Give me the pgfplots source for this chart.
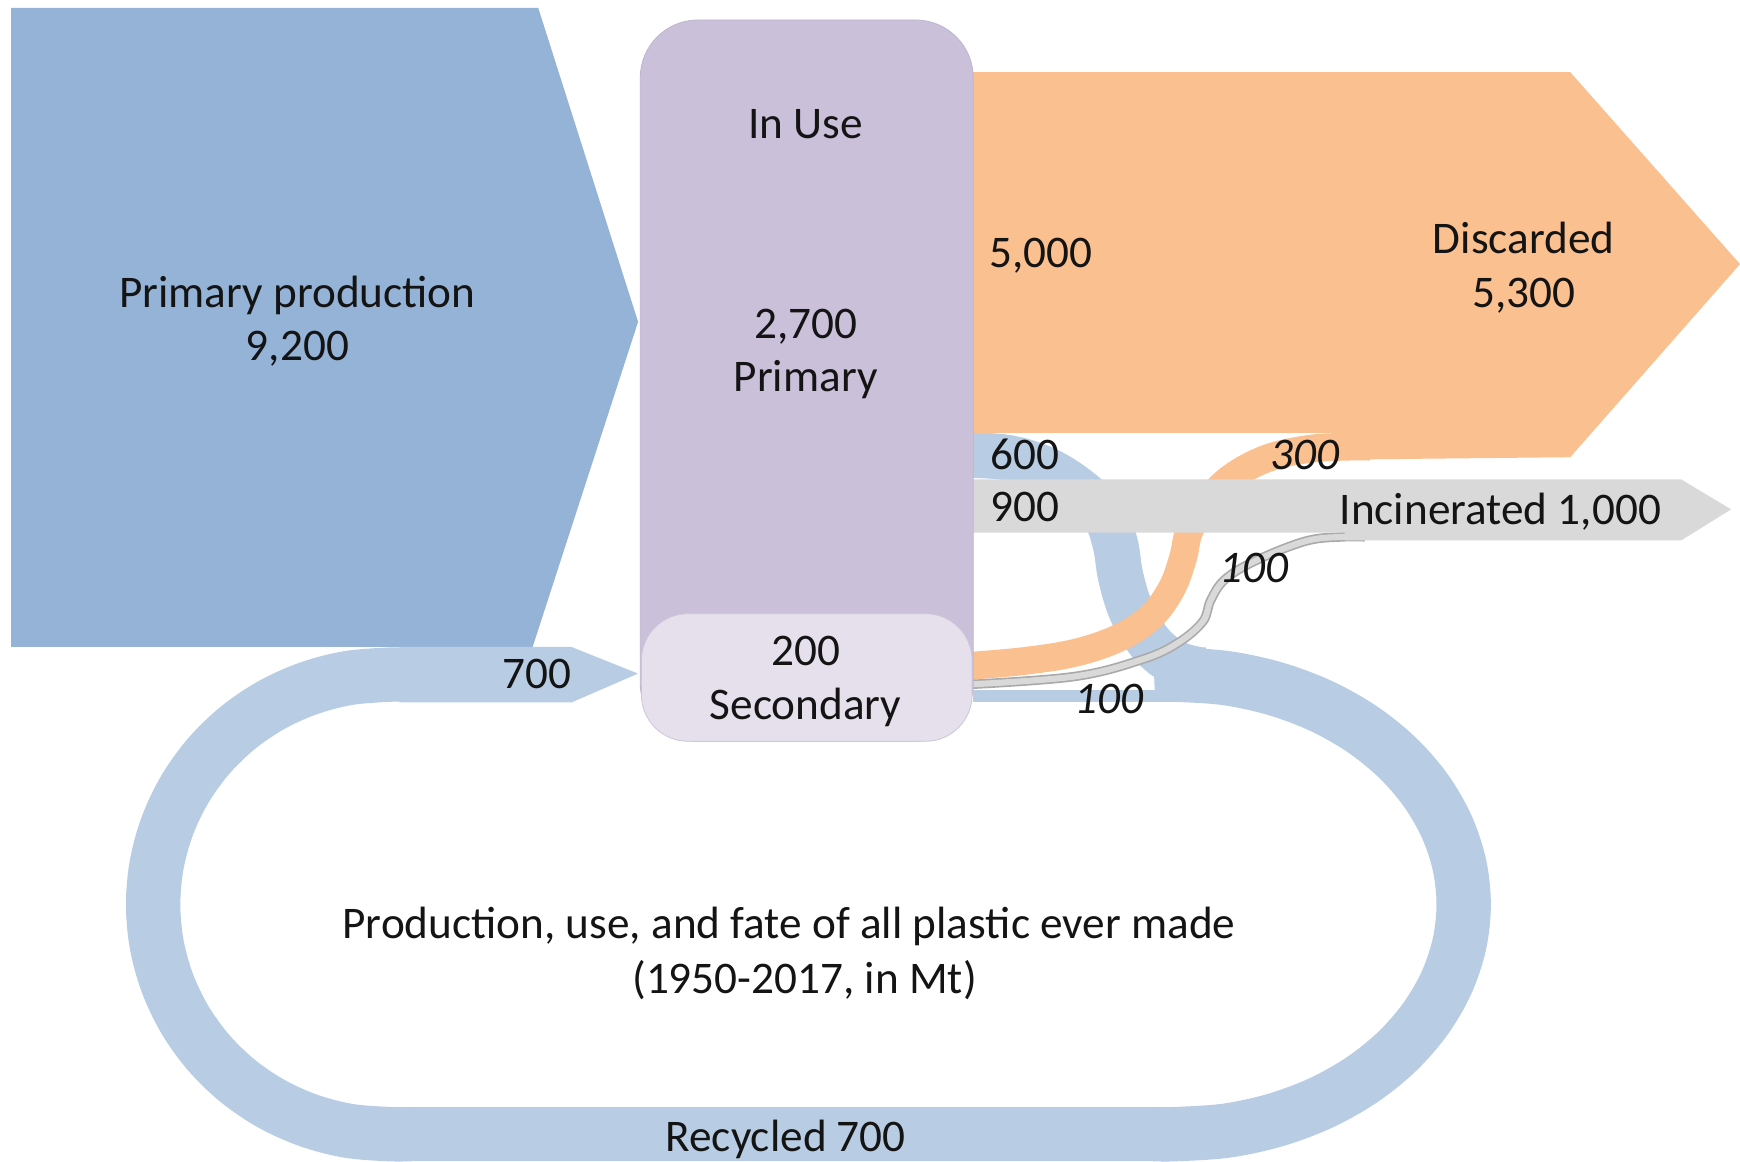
\documentclass[border=0pt]{standalone}
\usepackage{pgfplots}
\pgfplotsset{compat=1.18}
\usepackage{fontspec}
\setmainfont{Carlito}
\definecolor{pblue}{RGB}{149,179,215}
\definecolor{lblue}{RGB}{184,204,228}
\definecolor{orng}{RGB}{250,192,144}
\definecolor{purp}{RGB}{202,192,218}
\definecolor{secp}{RGB}{229,224,236}
\definecolor{gry}{RGB}{217,217,217}
\definecolor{gryd}{RGB}{170,170,170}
\definecolor{txt}{RGB}{20,20,20}
\tikzset{lbl/.style={anchor=base, text=txt, font=\fontsize{11.6}{13.9}\selectfont},
  ilbl/.style={anchor=base, text=txt, font=\fontsize{11.6}{13.9}\selectfont\itshape}}
\begin{document}
\begin{tikzpicture}
\begin{axis}[x=0.1mm, y=0.1mm, y dir=reverse,
  xmin=0, xmax=1568, ymin=0, ymax=1047,
  hide axis, clip=true,
  every axis plot/.append style={mark=none}]
% background
\addplot[fill=white, draw=none] coordinates {(0,0) (1568,0) (1568,1047) (0,1047)} --cycle;
% primary production
\addplot[fill=pblue, draw=none] coordinates {(10,7) (485,7) (575,290) (480,583) (10,583)} --cycle;
% recycling loop (centre line of the band): left bend, bottom, right bend
\addplot[draw=lblue, line width=4.9mm, smooth, tension=0.55] coordinates {
(370,608) (350,608) (313.2,611.1) (277.5,620.5) (244,635.7) (213.7,656.4) (187.6,681.9) (166.4,711.5) (150.8,744.2) (141.2,779.1) (138,815)
(141.2,850.9) (150.8,885.8) (166.4,918.5) (187.6,948.1) (213.7,973.6) (244,994.3) (277.5,1009.5) (313.2,1018.9) (350,1022) (370,1022)};
\addplot[draw=lblue, line width=4.9mm, sharp plot] coordinates {(365,1022) (1045,1022)};
\addplot[draw=lblue, line width=4.9mm, smooth, tension=0.55] coordinates {
(1040,1022) (1060,1022) (1105,1018.9) (1148.6,1009.5) (1189.5,994.3) (1226.5,973.6) (1258.4,948.1) (1284.3,918.5) (1303.4,885.8) (1315.1,850.9) (1319,815)
(1315.1,779.1) (1303.4,744.2) (1284.3,711.5) (1258.4,681.9) (1226.5,656.4) (1189.5,635.7) (1148.6,620.5) (1105,611.1) (1060,608) (1040,608)};
% arrow into secondary (700)
\addplot[fill=lblue, draw=none] coordinates {(360,583) (515,583) (575,607) (515,633) (360,633)} --cycle;
% thin band from secondary (100)
\addplot[fill=lblue, draw=none] coordinates {(877,622) (1070,622) (1070,633) (877,633)} --cycle;
% 600 flow (in use -> recycled)
\addplot[draw=lblue, line width=4.1mm, smooth, tension=0.6] coordinates {
(860,410) (905,412) (940,422) (970,440) (995,464) (1005,490) (1010,520) (1020,552) (1037,580) (1058,597) (1080,603.5) (1090,603.5)};
% discarded arrow
\addplot[fill=orng, draw=none] coordinates {(877,65) (1415,65) (1568,238) (1415,412) (1225,414) (1210,390) (877,390)} --cycle;
% 300 flow (secondary -> discarded)
\addplot[draw=orng, line width=2.5mm, smooth, tension=0.6] coordinates {
(860,601) (920,596) (970,588) (1010,574) (1038,555) (1056,530) (1066,503) (1072,478) (1088,452) (1110,430) (1142,413) (1180,404.5) (1215,402.5) (1235,402.5)};
% 100 flow (secondary -> incinerated)
\addplot[draw=gryd, line width=0.85mm, smooth, tension=0.6] coordinates {
(860,617.5) (967,609.8) (1030,594) (1062,579) (1084,560) (1091,541) (1104,522) (1132,505) (1177,487.5) (1210,483.8) (1230,483.8)};
\addplot[draw=gry, line width=0.55mm, smooth, tension=0.6] coordinates {
(860,617.5) (967,609.8) (1030,594) (1062,579) (1084,560) (1091,541) (1104,522) (1132,505) (1177,487.5) (1210,483.8) (1230,483.8)};
% incinerated arrow
\addplot[fill=gry, draw=none] coordinates {(877,432) (1515,432) (1560,459) (1515,487) (1212,487) (1212,480) (877,480)} --cycle;
% in use box
\addplot[fill=purp, draw={rgb,255:red,190;green,180;blue,205}, line width=0.2pt, rounded corners=5.2mm] coordinates {(577,18) (877,18) (877,668) (577,668)} --cycle;
% secondary box
\addplot[fill=secp, draw={rgb,255:red,205;green,197;blue,216}, line width=0.2pt, rounded corners=4.2mm] coordinates {(578,553) (876,553) (876,668) (578,668)} --cycle;
% labels
\node[lbl] at (axis cs:268,277) {Primary production};
\node[lbl] at (axis cs:268,325) {9,200};
\node[lbl] at (axis cs:726,125) {In Use};
\node[lbl] at (axis cs:726,305) {2,700};
\node[lbl] at (axis cs:726,353) {Primary};
\node[lbl] at (axis cs:726,600) {200};
\node[lbl] at (axis cs:726,648) {Secondary};
\node[lbl] at (axis cs:938,241) {5,000};
\node[lbl] at (axis cs:1373,228) {Discarded};
\node[lbl] at (axis cs:1373,277) {5,300};
\node[lbl] at (axis cs:924,423) {600};
\node[lbl] at (axis cs:924,470) {900};
\node[ilbl] at (axis cs:1176,423) {300};
\node[lbl] at (axis cs:1352,473) {Incinerated 1,000};
\node[ilbl] at (axis cs:1130,525) {100};
\node[ilbl] at (axis cs:999,643) {100};
\node[lbl] at (axis cs:484,620) {700};
\node[lbl] at (axis cs:711,846) {Production, use, and fate of all plastic ever made};
\node[lbl] at (axis cs:725,895) {(1950-2017, in Mt)};
\node[lbl] at (axis cs:708,1038) {Recycled 700};
\end{axis}
\end{tikzpicture}
\end{document}
